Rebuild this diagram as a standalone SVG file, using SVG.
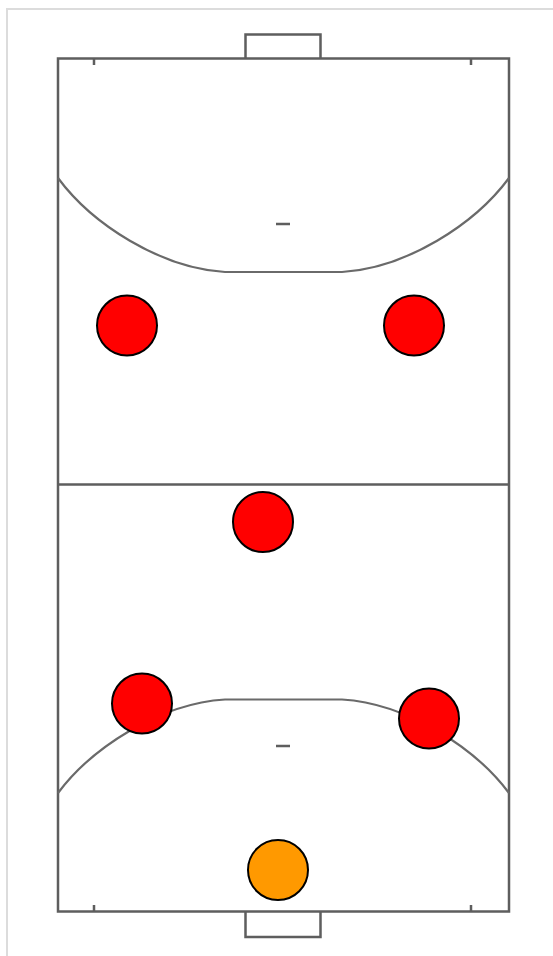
<svg xmlns="http://www.w3.org/2000/svg" width="553" height="956" viewBox="0 0 553 956">
<style>
.l{fill:none;stroke:#5e5e5e;stroke-width:2.5}
.a{fill:none;stroke:#6a6a6a;stroke-width:2.2}
.p{stroke:#000;stroke-width:2}
</style>
<rect width="553" height="956" fill="#fff"/>
<path d="M7 956V9H553" fill="none" stroke="#dcdcdc" stroke-width="2"/>
<g id="court">
<rect class="l" x="58" y="58.500" width="451" height="853"/>
<path class="l" d="M245.500 58V34.500H320.500V58M245.500 912V937H320.500V912"/>
<path class="l" d="M58 484.500H509"/>
<path class="l" d="M94 58V65M471 58V65M94 912V905M471 912V905M276 224H290M276 746H290"/>
<path class="a" d="M58 178C92 224 160 268 225 272H342C407 268 475 224 509 178"/>
<path class="a" d="M58 793C92 747.500 160 703.500 225 699.500H342C407 703.500 475 747.500 509 793"/>
</g>
<g id="player-1"><circle class="p" cx="127" cy="325.500" r="30" fill="#f00"/></g>
<g id="player-2"><circle class="p" cx="414" cy="325.500" r="30" fill="#f00"/></g>
<g id="player-3"><circle class="p" cx="263" cy="522" r="30" fill="#f00"/></g>
<g id="player-4"><circle class="p" cx="142" cy="703.500" r="30" fill="#f00"/></g>
<g id="player-5"><circle class="p" cx="429" cy="718.500" r="30" fill="#f00"/></g>
<g id="keeper"><circle class="p" cx="278" cy="870" r="30" fill="#f90"/></g>
</svg>
